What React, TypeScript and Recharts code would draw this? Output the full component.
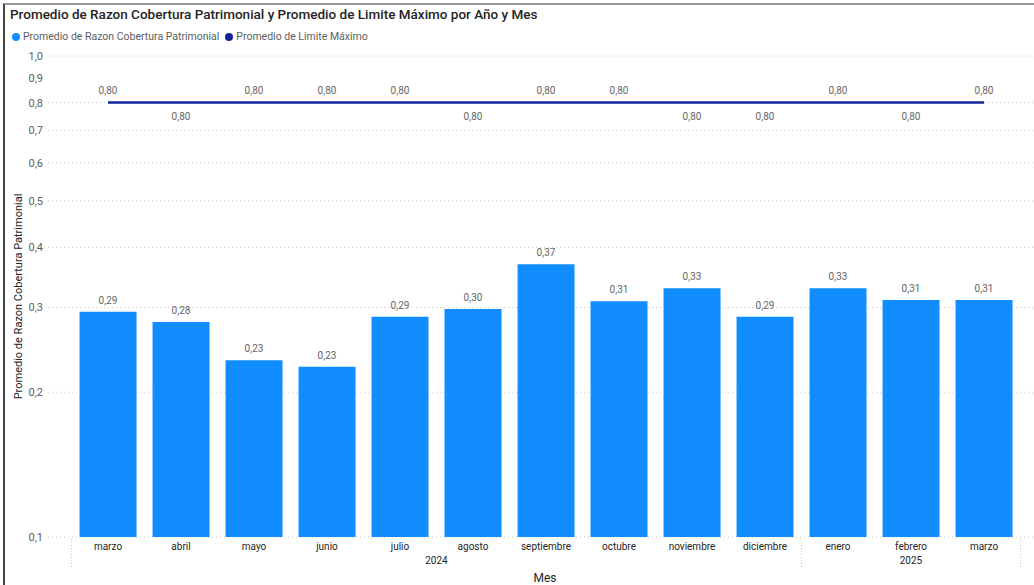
import { Bar, CartesianGrid, ComposedChart, LabelList, Line, XAxis, YAxis } from "recharts";

const months = [
  "marzo", "abril", "mayo", "junio", "julio", "agosto", "septiembre",
  "octubre", "noviembre", "diciembre", "enero", "febrero", "marzo",
];
const years = [
  "2024", "2024", "2024", "2024", "2024", "2024", "2024",
  "2024", "2024", "2024", "2025", "2025", "2025",
];
const razonCobertura = [0.294, 0.28, 0.233, 0.226, 0.287, 0.298, 0.369, 0.309, 0.329, 0.287, 0.329, 0.311, 0.311];
const limiteMaximo = [0.8, 0.8, 0.8, 0.8, 0.8, 0.8, 0.8, 0.8, 0.8, 0.8, 0.8, 0.8, 0.8];
const yTicks = [0.1, 0.2, 0.3, 0.4, 0.5, 0.6, 0.7, 0.8, 0.9, 1.0];

// which line labels Power BI pushed under the line
const labelsBelow = new Set([1, 5, 8, 9, 11]);

const data = months.map((mes, i) => ({
  key: `${years[i]}-${i}`,
  mes,
  year: years[i],
  razon: razonCobertura[i],
  limite: limiteMaximo[i],
}));

const W = 1034;
const H = 585;
const PLOT_LEFT = 48;
const PAD_LEFT = 23.5;
const PAD_RIGHT = 13.5;
const STEP = (W - PLOT_LEFT - PAD_LEFT - PAD_RIGHT) / months.length;

const FONT = "Roboto, 'Segoe UI', sans-serif";
const fmt = (v: number, d: number) => v.toFixed(d).replace(".", ",");

const MonthTick = ({ x, y, index }: any) => {
  const yr = years[index];
  const first = index === 0 || years[index - 1] !== yr;
  const last = index === months.length - 1;
  let n = 0;
  if (first) {
    while (years[index + n] === yr) n++;
  }
  return (
    <g>
      <text x={x} y={y + 13} textAnchor="middle" fontSize={10} fill="#252423" fontFamily={FONT}>
        {months[index]}
      </text>
      {first && (
        <>
          <text
            x={x + ((n - 1) * STEP) / 2}
            y={y + 27}
            textAnchor="middle"
            fontSize={10}
            fill="#252423"
            fontFamily={FONT}
          >
            {yr}
          </text>
          <line x1={x - STEP / 2} x2={x - STEP / 2} y1={y + 2} y2={y + 32} stroke="#C8C6C4" strokeDasharray="1 2" />
        </>
      )}
      {last && (
        <line x1={x + STEP / 2} x2={x + STEP / 2} y1={y + 2} y2={y + 32} stroke="#C8C6C4" strokeDasharray="1 2" />
      )}
    </g>
  );
};

const LimitLabel = ({ x, y, value, index }: any) => {
  const below = labelsBelow.has(index);
  return (
    <text
      x={x}
      y={below ? y + 17 : y - 9}
      textAnchor="middle"
      fontSize={10}
      fill="#666666"
      fontFamily={FONT}
    >
      {fmt(value, 2)}
    </text>
  );
};

export default function App() {
  return (
    <div style={{ position: "absolute", left: 0, top: 0, width: W, height: H, background: "#fff", overflow: "hidden" }}>
      <ComposedChart
        width={W}
        height={H}
        data={data}
        margin={{ top: 56, right: 0, bottom: 0, left: 8 }}
        barCategoryGap="11%"
      >
        <CartesianGrid vertical={false} stroke="#C8C6C4" strokeDasharray="1 3" />
        <XAxis
          dataKey="key"
          interval={0}
          height={48}
          axisLine={false}
          tickLine={false}
          tickSize={0}
          tickMargin={0}
          padding={{ left: PAD_LEFT, right: PAD_RIGHT }}
          tick={<MonthTick />}
          label={{
            value: "Mes",
            position: "insideBottom",
            offset: 3,
            dx: 4,
            style: { fontSize: 12, fill: "#252423", fontFamily: FONT },
          }}
        />
        <YAxis
          type="number"
          scale="log"
          domain={[0.1, 1]}
          allowDataOverflow
          ticks={yTicks}
          width={40}
          axisLine={false}
          tickLine={false}
          tickSize={0}
          tickMargin={5}
          tickFormatter={(v: number) => fmt(v, 1)}
          tick={{ fontSize: 11, fill: "#605E5C", fontFamily: FONT }}
          label={{
            value: "Promedio de Razon Cobertura Patrimonial",
            angle: -90,
            position: "insideLeft",
            offset: 10,
            style: { textAnchor: "middle", fontSize: 11, fill: "#252423", fontFamily: FONT },
          }}
        />
        <Bar dataKey="razon" fill="#118DFF" isAnimationActive={false}>
          <LabelList
            dataKey="razon"
            position="top"
            offset={8}
            formatter={(v: any) => fmt(Number(v), 2)}
            style={{ fontSize: 10, fill: "#666666", fontFamily: FONT }}
          />
        </Bar>
        <Line
          dataKey="limite"
          type="linear"
          stroke="#12239E"
          strokeWidth={2.5}
          dot={false}
          activeDot={false}
          isAnimationActive={false}
        >
          <LabelList dataKey="limite" content={<LimitLabel />} />
        </Line>
      </ComposedChart>

      <div
        style={{
          position: "absolute",
          left: 3,
          top: 3,
          right: 0,
          bottom: 0,
          borderLeft: "2px solid #444",
          borderTop: "2px solid #9a9a9a",
          pointerEvents: "none",
        }}
      />
      <div
        style={{
          position: "absolute",
          left: 10,
          top: 6,
          fontFamily: FONT,
          fontSize: 13.5,
          fontWeight: 500,
          color: "#252423",
          whiteSpace: "nowrap",
        }}
      >
        Promedio de Razon Cobertura Patrimonial y Promedio de Limite Máximo por Año y Mes
      </div>
      <div
        style={{
          position: "absolute",
          left: 12,
          top: 30,
          fontFamily: FONT,
          fontSize: 10.5,
          color: "#605E5C",
          display: "flex",
          alignItems: "center",
          whiteSpace: "nowrap",
        }}
      >
        <span style={{ width: 8, height: 8, borderRadius: 4, background: "#118DFF", marginRight: 3 }} />
        <span style={{ marginRight: 6 }}>Promedio de Razon Cobertura Patrimonial</span>
        <span style={{ width: 8, height: 8, borderRadius: 4, background: "#12239E", marginRight: 3 }} />
        <span>Promedio de Limite Máximo</span>
      </div>
    </div>
  );
}
